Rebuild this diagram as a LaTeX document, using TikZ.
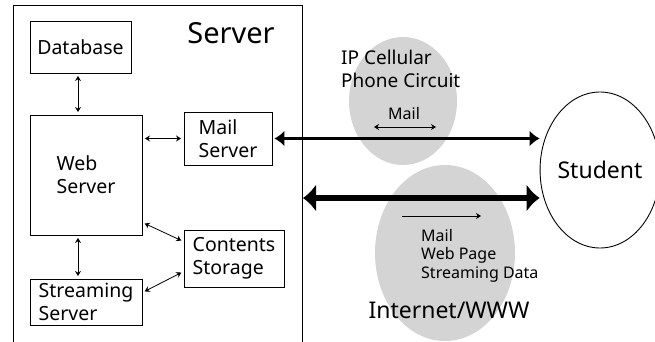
\documentclass[tikz,border=0pt]{standalone}
\usepackage{fontspec}
\setmainfont{Noto Sans}
\usepackage{tikz}
\usetikzlibrary{arrows.meta}
\usetikzlibrary{shapes.geometric}

\begin{document}
\begin{tikzpicture}[x=1pt, y=-1pt,
    box/.style={draw, line width=0.9pt, align=left, inner sep=0pt, font=\fontsize{19.5}{23}\selectfont},
    cloud/.style={ellipse, fill=black!17, inner sep=0pt},
    lbl/.style={align=left, inner sep=0pt},
    small/.style={lbl, font=\fontsize{16}{18.5}\selectfont},
    big/.style={lbl, font=\fontsize{23}{28}\selectfont},
    link/.style={<->, >={Stealth[length=5pt, width=6pt]}, line width=0.8pt, shorten <=2.5pt, shorten >=2.5pt},
    mailpipe/.style={<->, >={Latex[length=10pt, width=16pt]}, line width=3pt},
    wwwpipe/.style={<->, >={Latex[length=13pt, width=28pt]}, line width=6.5pt}
  ]
  \useasboundingbox (0,0) rectangle (655,342);
  % networks
  \node[cloud, minimum width=108pt, minimum height=128pt] (ipc) at (403,101) {};
  \node[cloud, minimum width=140pt, minimum height=176pt] (net) at (445,253) {};
  % server side
  \draw[line width=0.9pt] (13,342) -- (13,5) -- (302,5) -- (302,342);
  \node[big, font=\fontsize{29}{32}\selectfont] (srv) at (231,33) {Server};
  \node[box, minimum width=101pt, minimum height=52pt] (db) at (80.5,47) {Database};
  \node[box, minimum width=112pt, minimum height=120pt] (web) at (86,175) {Web\\Server};
  \node[box, minimum width=88pt, minimum height=53pt] (mail) at (228,138.5) {Mail\\Server};
  \node[box, minimum width=100pt, minimum height=57pt] (cont) at (234,258.5) {Contents\\Storage};
  \node[box, minimum width=112pt, minimum height=46pt] (strm) at (86,302) {Streaming\\Server};
  \draw[link] ([xshift=-2.5pt]db.south) -- ([xshift=-2.5pt]db.south |- web.north);
  \draw[link] (mail.west -| web.east) -- (mail.west);
  \draw[link] ([yshift=13pt]web.south east) -- ([yshift=-12pt]cont.north west);
  \draw[link] ([xshift=-8pt]web.south) -- ([xshift=-8pt]strm.north);
  \draw[link] ([yshift=-14pt]strm.north east) -- ([yshift=16pt]cont.south west);
  % student side
  \node[draw, ellipse, line width=0.9pt, minimum width=104pt, minimum height=156pt, inner sep=0pt, font=\fontsize{23}{28}\selectfont] (student) at (600,170) {Student};
  \node[lbl, anchor=west, font=\fontsize{19}{23}\selectfont] (iplbl) at (341,68.5) {IP Cellular\\Phone Circuit};
  \node[small] (ipmail) at (404,114) {Mail};
  \node[small, anchor=north west] (netdata) at (421,229) {Mail\\Web Page\\Streaming Data};
  \node[big] (netlbl) at (449,310) {Internet/WWW};
  \coordinate (ipL) at (374,127);
  \coordinate (ipR) at (436,127);
  \coordinate (netL) at (402,216);
  \coordinate (netR) at (481,216);
  \coordinate (wwwin) at (303,198);
  \draw[link, shorten <=0pt, shorten >=0pt] (ipL) -- (ipR);
  \draw[link, ->, shorten <=0pt, shorten >=0pt] (netL) -- (netR);
  \draw[mailpipe, shorten <=2pt] (mail.east) -- (mail.east -| student.west);
  \draw[wwwpipe] (wwwin) -- (wwwin -| student.west);
\end{tikzpicture}
\end{document}
